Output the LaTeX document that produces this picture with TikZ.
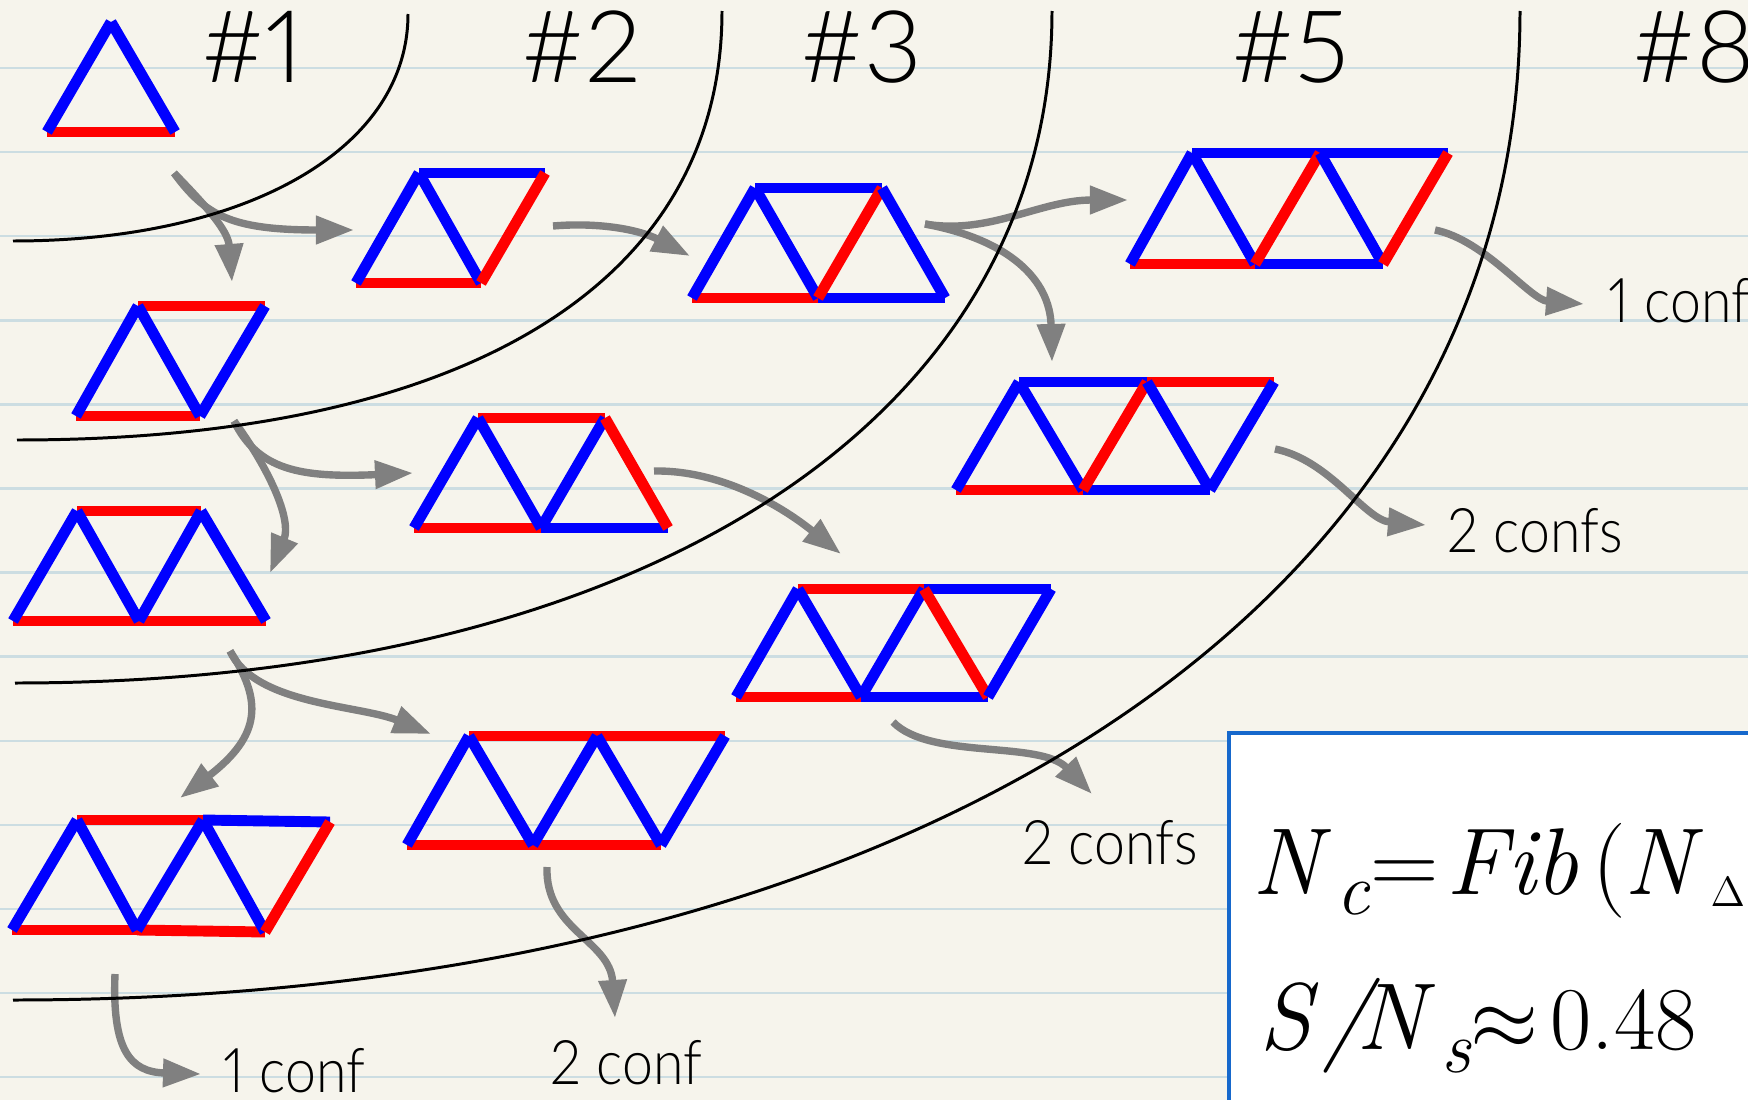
\documentclass[tikz,border=0pt]{standalone}
\usepackage{fontspec}
\usetikzlibrary{arrows.meta}
\newfontfamily\hand{Lato Light}[Numbers=Proportional]
\newfontfamily\handn{Lato Light}[Numbers=Proportional,FakeStretch=0.9]
\definecolor{paper}{RGB}{246,244,236}
\definecolor{rulec}{RGB}{204,221,226}
\definecolor{eb}{RGB}{0,0,255}
\definecolor{er}{RGB}{255,0,0}
\definecolor{arr}{RGB}{128,128,128}
\definecolor{boxb}{RGB}{22,104,204}
\begin{document}
\begin{tikzpicture}[x=0.01cm,y=-0.01cm,
  be/.style={draw=eb,line width=3.1pt},
  re/.style={draw=er,line width=3.1pt},
  sepline/.style={draw=black,line width=0.85pt},
  flow/.style={draw=arr,line width=2.1pt,-{Triangle[length=3.8mm,width=2.7mm]}},
  hashlbl/.style={inner sep=0pt,anchor=base west,font={\hand\fontsize{28.5}{30}\selectfont}},
  conflbl/.style={inner sep=0pt,anchor=base west,font={\handn\fontsize{17.5}{20}\selectfont}},
  eqbig/.style={inner sep=0pt,anchor=base west,font={\rmfamily\fontsize{27}{30}\selectfont}},
  eqnum/.style={inner sep=0pt,anchor=base west,font={\rmfamily\fontsize{25.5}{28}\selectfont}},
  eqsub/.style={inner sep=0pt,anchor=base west,font={\rmfamily\fontsize{21}{24}\selectfont}},
  eqtiny/.style={inner sep=0pt,anchor=base west,font={\rmfamily\fontsize{12}{14}\selectfont}},
]
\useasboundingbox (0,0) rectangle (1748,1100);
\fill[paper] (0,0) rectangle (1748,1100);
\foreach \k in {0,...,12}{
  \draw[rulec,line width=0.7pt] (0,{68+84.1*\k}) -- (1748,{68+84.1*\k});
}

% ---------- labels ----------
\node[hashlbl] (h1) at (201,82) {\#1};
\node[hashlbl] (h2) at (521,82) {\#2};
\node[hashlbl] (h3) at (800,82) {\#3};
\node[hashlbl] (h5) at (1231,82) {\#5};
\node[hashlbl] (h8) at (1632,82) {\#8};

\node[conflbl] (l1) at (1608,322) {1 conf};
\node[conflbl] (l2) at (1447,552) {2 confs};
\node[conflbl] (l3) at (1022,864) {2 confs};
\node[conflbl] (l4) at (223,1092) {1 conf};
\node[conflbl] (l5) at (550,1084) {2 conf};

% ---------- figures ----------
% A
\coordinate (aT) at (111,22); \coordinate (aL) at (47,132); \coordinate (aR) at (175,132);
\draw[re] (aL) -- (aR);
\draw[be] (aL) -- (aT);
\draw[be] (aT) -- (aR);
% B
\coordinate (bBL) at (356,283); \coordinate (bTL) at (419,173);
\coordinate (bBM) at (481,283); \coordinate (bTR) at (545,173);
\draw[re] (bBL) -- (bBM);
\draw[be] (bBL) -- (bTL);
\draw[be] (bTL) -- (bBM);
\draw[be] (bTL) -- (bTR);
\draw[re] (bTR) -- (bBM);
% C
\coordinate (cBL) at (76,416); \coordinate (cTL) at (138,306);
\coordinate (cBM) at (200,416); \coordinate (cTR) at (265,306);
\draw[re] (cBL) -- (cBM);
\draw[re] (cTL) -- (cTR);
\draw[be] (cBL) -- (cTL);
\draw[be] (cTL) -- (cBM);
\draw[be] (cTR) -- (cBM);
% D
\coordinate (dBL) at (692,298); \coordinate (dTL) at (755,188);
\coordinate (dBM) at (818,298); \coordinate (dTR) at (882,188);
\coordinate (dBR) at (945,298);
\draw[re] (dBL) -- (dBM);
\draw[be] (dBM) -- (dBR);
\draw[be] (dTL) -- (dTR);
\draw[be] (dBL) -- (dTL);
\draw[be] (dTL) -- (dBM);
\draw[re] (dTR) -- (dBM);
\draw[be] (dTR) -- (dBR);
% E
\coordinate (eBL) at (1130,264); \coordinate (eTL) at (1192,153);
\coordinate (eBM) at (1255,264); \coordinate (eTM) at (1320,153);
\coordinate (eBN) at (1383,264); \coordinate (eTR) at (1448,153);
\draw[re] (eBL) -- (eBM);
\draw[be] (eBM) -- (eBN);
\draw[be] (eTL) -- (eTM);
\draw[be] (eTM) -- (eTR);
\draw[be] (eBL) -- (eTL);
\draw[be] (eTL) -- (eBM);
\draw[re] (eTM) -- (eBM);
\draw[be] (eTM) -- (eBN);
\draw[re] (eTR) -- (eBN);
% F
\coordinate (fBL) at (956,490); \coordinate (fTL) at (1019,382);
\coordinate (fBM) at (1083,490); \coordinate (fTM) at (1147,382);
\coordinate (fBN) at (1210,490); \coordinate (fTR) at (1274,382);
\draw[re] (fBL) -- (fBM);
\draw[be] (fBM) -- (fBN);
\draw[be] (fTL) -- (fTM);
\draw[re] (fTM) -- (fTR);
\draw[be] (fBL) -- (fTL);
\draw[be] (fTL) -- (fBM);
\draw[re] (fTM) -- (fBM);
\draw[be] (fTM) -- (fBN);
\draw[be] (fTR) -- (fBN);
% G
\coordinate (gBL) at (414,528); \coordinate (gTL) at (478,418);
\coordinate (gBM) at (541,528); \coordinate (gTR) at (605,418);
\coordinate (gBR) at (668,528);
\draw[re] (gBL) -- (gBM);
\draw[be] (gBM) -- (gBR);
\draw[re] (gTL) -- (gTR);
\draw[be] (gBL) -- (gTL);
\draw[be] (gTL) -- (gBM);
\draw[be] (gTR) -- (gBM);
\draw[re] (gTR) -- (gBR);
% H
\coordinate (hBL) at (13,621); \coordinate (hTL) at (77,511);
\coordinate (hBM) at (139,621); \coordinate (hTR) at (201,511);
\coordinate (hBR) at (266,621);
\draw[re] (hBL) -- (hBM);
\draw[re] (hBM) -- (hBR);
\draw[re] (hTL) -- (hTR);
\draw[be] (hBL) -- (hTL);
\draw[be] (hTL) -- (hBM);
\draw[be] (hTR) -- (hBM);
\draw[be] (hTR) -- (hBR);
% I
\coordinate (iBL) at (736,697); \coordinate (iTL) at (798,589);
\coordinate (iBM) at (861,697); \coordinate (iTM) at (924,589);
\coordinate (iBN) at (988,697); \coordinate (iTR) at (1051,589);
\draw[re] (iBL) -- (iBM);
\draw[be] (iBM) -- (iBN);
\draw[re] (iTL) -- (iTM);
\draw[be] (iTM) -- (iTR);
\draw[be] (iBL) -- (iTL);
\draw[be] (iTL) -- (iBM);
\draw[be] (iTM) -- (iBM);
\draw[re] (iTM) -- (iBN);
\draw[be] (iTR) -- (iBN);
% J
\coordinate (jBL) at (407,845); \coordinate (jTL) at (469,736);
\coordinate (jBM) at (533,845); \coordinate (jTM) at (597,736);
\coordinate (jBN) at (661,845); \coordinate (jTR) at (725,736);
\draw[re] (jBL) -- (jBM);
\draw[re] (jBM) -- (jBN);
\draw[re] (jTL) -- (jTM);
\draw[re] (jTM) -- (jTR);
\draw[be] (jBL) -- (jTL);
\draw[be] (jTL) -- (jBM);
\draw[be] (jTM) -- (jBM);
\draw[be] (jTM) -- (jBN);
\draw[be] (jTR) -- (jBN);
% K
\coordinate (kBL) at (12,930); \coordinate (kTL) at (77,820);
\coordinate (kBM) at (137,930); \coordinate (kTM) at (203,820);
\coordinate (kBN) at (265,932); \coordinate (kTR) at (330,822);
\draw[re] (kBL) -- (kBM);
\draw[re] (kBM) -- (kBN);
\draw[re] (kTL) -- (kTM);
\draw[be] (kTM) -- (kTR);
\draw[be] (kBL) -- (kTL);
\draw[be] (kTL) -- (kBM);
\draw[be] (kTM) -- (kBM);
\draw[be] (kTM) -- (kBN);
\draw[re] (kTR) -- (kBN);

% ---------- arrows ----------
\coordinate (sA) at (174,173);
\coordinate (tAB) at (354,230);
\coordinate (tAC) at (232,282);
\coordinate (sB) at (553,226);
\coordinate (tBD) at (690,256);
\coordinate (sC) at (234,421);
\coordinate (tCG) at (413,473);
\coordinate (tCH) at (270,573);
\coordinate (sD) at (925,224);
\coordinate (tDE) at (1128,200);
\coordinate (tDF) at (1052,362);
\coordinate (sE) at (1435,230);
\coordinate (tE) at (1584,304);
\coordinate (sG) at (654,471);
\coordinate (tGI) at (841,554);
\coordinate (sF) at (1275,449);
\coordinate (tF) at (1426,525);
\coordinate (sI) at (893,722);
\coordinate (tI) at (1092,794);
\coordinate (sH) at (230,651);
\coordinate (tHJ) at (431,734);
\coordinate (tHK) at (180,798);
\coordinate (sK) at (115,974);
\coordinate (tK) at (201,1074);
\coordinate (sJ) at (547,867);
\coordinate (tJ) at (615,1018);

\draw[flow] (sA) .. controls (205,215) and (230,230) .. (tAB);
\draw[flow] (sA) .. controls (205,205) and (228,230) .. (tAC);
\draw[flow] (sB) .. controls (600,222) and (640,230) .. (tBD);
\draw[flow] (sC) .. controls (258,470) and (300,478) .. (tCG);
\draw[flow] (sC) .. controls (270,470) and (292,520) .. (tCH);
\draw[flow] (sD) .. controls (990,235) and (1040,200) .. (tDE);
\draw[flow] (sD) .. controls (1010,240) and (1050,280) .. (tDF);
\draw[flow] (sE) .. controls (1485,240) and (1530,300) .. (tE);
\draw[flow] (sG) .. controls (720,470) and (780,505) .. (tGI);
\draw[flow] (sF) .. controls (1330,460) and (1365,520) .. (tF);
\draw[flow] (sI) .. controls (930,760) and (1040,740) .. (tI);
\draw[flow] (sH) .. controls (255,705) and (360,705) .. (tHJ);
\draw[flow] (sH) .. controls (262,700) and (262,735) .. (tHK);
\draw[flow] (sK) .. controls (112,1050) and (130,1072) .. (tK);
\draw[flow] (sJ) .. controls (545,930) and (610,940) .. (tJ);

% ---------- separating curves ----------
\draw[sepline] (408,14) .. controls (408,150) and (245,241) .. (13,241);
\draw[sepline] (722,11) .. controls (722,286) and (462,440) .. (17,440);
\draw[sepline] (1052,11) .. controls (1052,421) and (642,683) .. (15,683);
\draw[sepline] (1520,11) .. controls (1520,604) and (912,1000) .. (13,1000);

% ---------- formula box ----------
\draw[boxb,fill=white,line width=1.14pt] (1229,733) rectangle (1770,1130);
\node[eqbig] (f1) at (1252,894) {\itshape N};
\node[eqsub] (f2) at (1336,914) {\itshape c};
\node[eqbig] (f3) at (1370,894) {=};
\node[eqbig] (f4) at (1446,894) {\itshape Fib};
\node[eqbig] (f5) at (1592,894) {(};
\node[eqbig] (f6) at (1624,894) {\itshape N};
\node[eqtiny] (f7) at (1710,906) {$\Delta$};
\node[eqbig] (g1) at (1259,1049) {\itshape S};
\node[eqbig] (g2) at (1322,1049) {\itshape /};
\node[eqbig] (g3) at (1356,1049) {\itshape N};
\node[eqsub] (g4) at (1441,1072) {\itshape s};
\node[eqbig] (g5) at (1470,1049) {$\approx$};
\node[eqnum] (g6) at (1550,1049) {0.48};
\end{tikzpicture}
\end{document}
